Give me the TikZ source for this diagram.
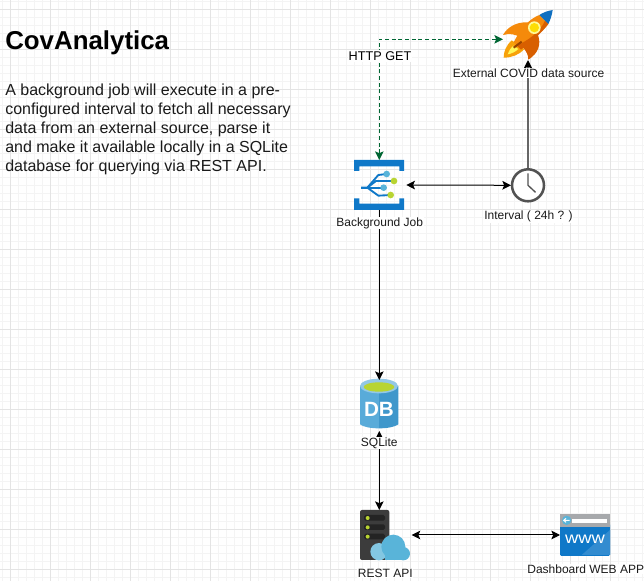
\documentclass[tikz,border=0pt]{standalone}
\usepackage{fontspec}
\setmainfont{Liberation Sans}
\usetikzlibrary{arrows.meta,calc}
\definecolor{gridminor}{HTML}{F4F4F4}
\definecolor{gridmajor}{HTML}{E4E4E4}
\definecolor{dashgreen}{HTML}{006633}
\definecolor{azblue}{HTML}{0F78C8}
\definecolor{azsky}{HTML}{59B4D9}
\definecolor{azlime}{HTML}{B8D432}
\definecolor{dbleft}{HTML}{59ABD9}
\definecolor{dbright}{HTML}{3F97CB}
\definecolor{srv}{HTML}{3C3C3C}
\definecolor{srvslot}{HTML}{242424}
\definecolor{rockor}{HTML}{F58A0B}
\definecolor{rockdk}{HTML}{D85F00}
\definecolor{rockbl}{HTML}{0F6FC0}
\definecolor{webgrey}{HTML}{A7A9AC}
\definecolor{labelgrey}{HTML}{1A1A1A}
\tikzset{
  tipstyle/.tip={Stealth[length=6.5pt,width=6.5pt,inset=1.4pt]},
  iconbox/.style={inner sep=0pt,outer sep=0pt,minimum width=#1},
  conn/.style={black,line width=0.75pt,-tipstyle},
  biconn/.style={black,line width=0.75pt,tipstyle-tipstyle},
  httpconn/.style={dashgreen,line width=0.75pt,densely dashed,tipstyle-tipstyle},
  timerconn/.style={draw=black!60,line width=1.5pt,-{Stealth[length=6.5pt,width=6.5pt,inset=1.4pt,black]}},
  lbl/.style={fill=white,inner sep=0.5pt,text=labelgrey,font=\fontsize{9}{11}\selectfont},
  zoomed/.style={shift={#1},x=0.25pt,y=-0.25pt}
}
\begin{document}
\begin{tikzpicture}[x=0.75pt,y=-0.75pt]
\useasboundingbox (0,0) rectangle (644,581);
\fill[white] (0,0) rectangle (644,581);
% grid
\foreach \k in {0,...,80}{
  \draw[gridminor,line width=0.75pt] ({2+8*\k},0) -- ({2+8*\k},581);
  \draw[gridminor,line width=0.75pt] (0,{2+8*\k}) -- (644,{2+8*\k});
}
\foreach \k in {0,...,16}{
  \draw[gridmajor,line width=0.75pt] ({10+40*\k},0) -- ({10+40*\k},581);
  \draw[gridmajor,line width=0.75pt] (0,{10+40*\k}) -- (644,{10+40*\k});
}
% anchors for the connectors
\node[iconbox=37.5pt,minimum height=37.5pt] (rocket) at (528,35) {};
\node[iconbox=37.5pt,minimum height=37.5pt] (job) at (379.3,185) {};
\node[iconbox=25.5pt,minimum height=25.5pt] (clock) at (528,185.3) {};
\node[iconbox=28.5pt,minimum height=38.25pt] (db) at (379.3,405.5) {};
\node[iconbox=37.5pt,minimum height=37.5pt] (rest) at (385,535) {};
\node[iconbox=37.5pt,minimum height=31.5pt] (web) at (585,535) {};
\coordinate (rocketin) at (503,39.3);
% rocket
\begin{scope}[zoomed={(495,5)}]
  \fill[rockor] (100,52) .. controls (62,50) and (36,68) .. (24,90) .. controls (45,84) and (62,88) .. (78,98) -- cycle;
  \fill[rockdk] (128,88) .. controls (140,118) and (130,145) .. (100,164) .. controls (100,150) and (95,140) .. (82,125) -- cycle;
  \fill[rockor!80!yellow] (50,106) .. controls (33,122) and (26,140) .. (26,158) .. controls (50,158) and (72,150) .. (88,132) -- cycle;
  \fill[yellow!65!white] (55,122) .. controls (45,132) and (40,140) .. (38,148) .. controls (50,146) and (62,140) .. (70,132) -- cycle;
  \fill[rockor] (133,30) .. controls (102,42) and (76,72) .. (56,112) -- (74,130) .. controls (105,108) and (138,84) .. (160,57) -- cycle;
  \fill[rockdk] (160,57) .. controls (135,90) and (105,112) .. (78,134) -- (66,122) .. controls (100,105) and (135,82) .. (150,47) -- cycle;
  \fill[rockbl] (173,15) .. controls (155,18) and (142,24) .. (133,30) -- (160,57) .. controls (166,45) and (171,30) .. cycle;
  \fill[yellow!40!white] (118,68) circle (19);
  \fill[yellow!80!orange] (118,68) circle (14);
  \draw[rockdk!70!black,line width=1.5pt] (56,128) -- (80,110);
\end{scope}
% background job
\begin{scope}[zoomed={(350,155)}]
  \fill[azblue] (12,15) -- (162,15) -- (162,48) -- (148,48) -- (148,34) -- (28,34) -- (28,48) -- (12,48) -- cycle;
  \fill[azblue] (12,165) -- (162,165) -- (162,130) -- (148,130) -- (148,146) -- (28,146) -- (28,130) -- (12,130) -- cycle;
  \draw[azblue,line width=1.4pt,line join=round] (33,98) -- (52,98) -- (85,60) -- (110,57);
  \draw[azblue,line width=1.4pt,line join=round] (52,98) -- (78,78) -- (130,78);
  \draw[azblue,line width=1.4pt,line join=round] (33,98) -- (100,98);
  \draw[azblue,line width=1.4pt,line join=round] (52,98) -- (85,122) -- (122,120);
  \fill[azsky] (110,57) circle (10);
  \fill[azlime] (132,78) circle (10);
  \fill[azsky] (101,98) circle (10);
  \fill[azlime] (122,120) circle (10);
\end{scope}
% clock
\draw[black!68,line width=1.9pt,fill=white] (clock.center) circle (12pt);
\draw[black!68,line width=1pt] ($(clock.center)+(0,-12)$) -- (clock.center) -- ($(clock.center)+(7.5,7)$);
% database
\begin{scope}[zoomed={(355,375)}]
  \fill[dbleft] (15,33) -- (15,148) .. controls (25,156) and (48,160) .. (72,160) -- (72,33) -- cycle;
  \fill[dbright] (130,33) -- (130,148) .. controls (120,156) and (96,160) .. (72,160) -- (72,33) -- cycle;
  \fill[dbleft!65!white] (72,33) ellipse [x radius=57,y radius=22];
  \fill[azlime] (72,36) ellipse [x radius=46,y radius=14];
  \node[text=white,inner sep=0pt,font=\fontsize{15.5}{16}\bfseries\selectfont] (dbtext) at (72,103) {DB};
\end{scope}
% server
\begin{scope}[zoomed={(355,505)}]
  \fill[srv,rounded corners=1.5pt] (15,15) rectangle (103,165);
  \foreach \yy in {30,58,86}{
    \fill[srvslot,rounded corners=1.2pt] (27,\yy) rectangle (90,\yy+17);
    \fill[azlime] (38,\yy+9) circle (6);
  }
  \fill[azsky!75!white] (72,140) circle (26);
  \fill[azsky] (115,125) circle (36);
  \fill[azsky] (145,146) circle (20);
  \fill[azsky] (90,140) rectangle (145,166);
\end{scope}
% web app
\begin{scope}[zoomed={(555,510)}]
  \fill[azblue,rounded corners=1pt] (15,40) rectangle (165,138);
  \fill[azblue!85!white] (165,60) -- (165,135) -- (80,135) -- cycle;
  \fill[webgrey] (15,12) rectangle (165,50);
  \fill[azsky] (35,31) circle (14);
  \draw[white,line width=0.75pt] (26,31) -- (44,31) (33,25) -- (26,31) -- (33,37);
  \fill[white] (52,26) rectangle (155,38);
  \node[text=white,inner sep=0pt,xscale=1.15,font=\fontsize{12}{12}\selectfont] (wwwtext) at (90,88) {www};
\end{scope}
% connectors
\draw[httpconn] (job.north) |- (rocketin);
\draw[biconn,shorten <=1.5pt] (job.east) -- (clock.west);
\draw[timerconn] (clock.north) -- (rocket.south);
\draw[conn] (job.south) -- (db.north);
\draw[biconn] (db.south) -- (db.south |- rest.north);
\draw[biconn,shorten <=1.2pt] (rest.east) -- (web.west);
% labels
\node[lbl,font=\fontsize{9.5}{11}\selectfont,text=black,inner ysep=1pt] (httplabel) at (380,56) {HTTP GET};
\node[lbl] (rocketlabel) at (528.5,73.3) {External COVID data source};
\node[lbl] (joblabel) at (379.7,223) {Background Job};
\node[lbl] (clocklabel) at (528.5,216.7) {Interval ( 24h ? )};
\node[lbl] (dblabel) at (379.3,443.3) {SQLite};
\node[lbl] (restlabel) at (385.3,573.3) {REST API};
\node[lbl] (weblabel) at (585.7,569.3) {Dashboard WEB APP};
% text block
\node[anchor=base west,inner sep=0pt,font=\fontsize{19.4}{22}\bfseries\selectfont] (title) at (5,50) {CovAnalytica};
\node[anchor=north west,inner sep=0pt,align=left,text=labelgrey,font=\fontsize{12}{14.25}\selectfont] (body) at (5,84) {A background job will execute in a pre-\\configured interval to fetch all necessary\\data from an external source, parse it\\and make it available locally in a SQLite\\database for querying via REST API.};
\end{tikzpicture}
\end{document}
